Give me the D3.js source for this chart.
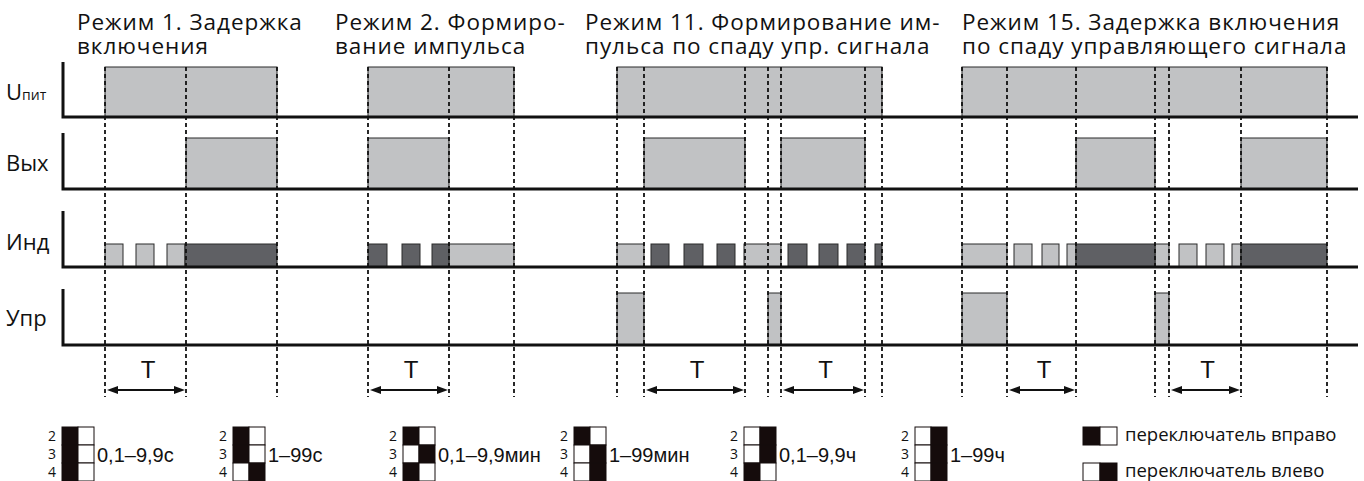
<!DOCTYPE html>
<html><head><meta charset="utf-8">
<script src="https://cdn.jsdelivr.net/npm/d3@7"></script>
<style>body{margin:0;background:#fff}svg{display:block}</style>
</head><body>
<svg id="chart" width="1364" height="481"></svg>
<script>
// ---------- DATA (time units) ----------
const rowLabels = ["U", "Вых", "Инд", "Упр"];
const powerSubscript = "пит";
const modeTitles = [
  ["Режим 1. Задержка", "включения"],
  ["Режим 2. Формиро-", "вание импульса"],
  ["Режим 11. Формирование им-", "пульса по спаду упр. сигнала"],
  ["Режим 15. Задержка включения", "по спаду управляющего сигнала"]
];
const powerPulses = [[47, 219], [310, 456], [559, 824], [904, 1269]];
const outputPulses = [[128, 219], [310, 391], [586, 687], [723, 807], [1018, 1097], [1183, 1269]];
const indicatorLight = [[47, 65], [78, 96], [109, 127], [391, 456], [559, 586], [686, 723],
  [904, 949], [956, 974], [984, 1001], [1009, 1018], [1097, 1111], [1121, 1139], [1148, 1166], [1174, 1183]];
const indicatorDark = [[127, 219], [310, 329], [344, 362], [374, 391], [593, 611], [626, 645], [659, 677],
  [730, 749], [761, 780], [789, 807], [817, 824], [1018, 1097], [1183, 1269]];
const controlPulses = [[559, 586], [710, 723], [904, 949], [1097, 1111]];
const delayArrows = [[47, 128], [310, 391], [586, 687], [723, 807], [949, 1018], [1111, 1183]];
const markerTimes = [47, 128, 219, 310, 391, 456, 559, 586, 687, 710, 723, 807, 824,
  904, 949, 1018, 1097, 1111, 1183, 1269];
const delayLabel = "T";
const switchNumbers = ["2", "3", "4"];
const rangeLabels = ["0,1–9,9с", "1–99с", "0,1–9,9мин", "1–99мин", "0,1–9,9ч", "1–99ч"];
const switchPatterns = [["L", "L", "L"], ["L", "L", "R"], ["L", "R", "L"], ["L", "R", "R"], ["R", "R", "L"], ["R", "R", "R"]];
const legendPatterns = ["L", "R"];
const legendTexts = ["переключатель вправо", "переключатель влево"];

// ---------- LAYOUT ----------
const W = 1364, H = 481;
const svg = d3.select("#chart");
const x = d3.scaleLinear().domain([0, 1300]).range([58, 1358]);
const rows = [
  { axisTop: 62, top: 67, base: 117, labelY: 100 },
  { axisTop: 133, top: 138, base: 189, labelY: 171 },
  { axisTop: 211, top: 244, base: 267, labelY: 250 },
  { axisTop: 289, top: 293, base: 345, labelY: 326 }
];
rows.forEach(r => r.y = d3.scaleLinear().domain([0, 1]).range([r.base, r.top]));
const LIGHT = "#c1c2c4", DARK = "#5f6064", INK = "#111";
const titleX = [77, 335, 585, 962];

svg.append("rect").attr("width", W).attr("height", H).attr("fill", "#fff");

// titles
const tg = svg.append("g").attr("font-family", "'Open Sans', 'Noto Sans', sans-serif")
  .attr("font-size", 22.5).attr("letter-spacing", 0.95).attr("fill", "#111");
modeTitles.forEach((t, i) => {
  tg.append("text").attr("x", titleX[i]).attr("y", 30).text(t[0]);
  tg.append("text").attr("x", titleX[i]).attr("y", 54).text(t[1]);
});

// pulses
function drawPulses(data, row, fill) {
  const r = rows[row];
  svg.append("g").selectAll("rect").data(data).join("rect")
    .attr("x", d => x(d[0])).attr("width", d => x(d[1]) - x(d[0]))
    .attr("y", r.y(1)).attr("height", r.y(0) - r.y(1))
    .attr("fill", fill).attr("stroke", "#2a2a2a").attr("stroke-width", 1);
}
drawPulses(powerPulses, 0, LIGHT);
drawPulses(outputPulses, 1, LIGHT);
drawPulses(indicatorLight, 2, LIGHT);
drawPulses(indicatorDark, 2, DARK);
drawPulses(controlPulses, 3, LIGHT);

// axes
const ag = svg.append("g").attr("stroke", INK).attr("stroke-width", 3).attr("fill", "none");
rows.forEach(r => {
  ag.append("path").attr("d", `M${x.range()[0] + 5},${r.axisTop}V${r.base}H${x.range()[1]}`)
    .attr("stroke-linejoin", "miter");
});

// row labels
const lg = svg.append("g").attr("font-family", "'Open Sans', 'Noto Sans', sans-serif").attr("fill", "#111");
rowLabels.forEach((l, i) => {
  const t = lg.append("text").attr("x", 6).attr("y", rows[i].labelY).attr("font-size", 22).text(l);
  if (i === 0) t.append("tspan").attr("font-size", 14).text(powerSubscript);
});

// dashed markers
svg.append("g").selectAll("line").data(markerTimes).join("line")
  .attr("x1", d => x(d)).attr("x2", d => x(d))
  .attr("y1", rows[0].top).attr("y2", 397)
  .attr("stroke", INK).attr("stroke-width", 1.8).attr("stroke-dasharray", "4,3");

// delay arrows
const arrowY = 390, head = 11, half = 4;
const dg = svg.append("g");
delayArrows.forEach(d => {
  const a = x(d[0]) + 2, b = x(d[1]) - 1;
  dg.append("line").attr("x1", a + 4).attr("x2", b - 4).attr("y1", arrowY).attr("y2", arrowY)
    .attr("stroke", INK).attr("stroke-width", 2);
  dg.append("path").attr("d", `M${a},${arrowY}L${a + head},${arrowY - half}L${a + head},${arrowY + half}Z`).attr("fill", INK);
  dg.append("path").attr("d", `M${b},${arrowY}L${b - head},${arrowY - half}L${b - head},${arrowY + half}Z`).attr("fill", INK);
  dg.append("text").attr("x", (a + b) / 2 + 2).attr("y", 378).attr("text-anchor", "middle")
    .attr("font-family", "'Liberation Sans', Arial, sans-serif").attr("font-size", 24).attr("fill", INK).text(delayLabel);
});

// switch grids
const gridX = d3.scaleLinear().domain([0, 5]).range([62, 915]);
const cellW = 16, cellH = 18, gridTop = 427;
const BLACK = "#150c0c";
switchPatterns.forEach((p, i) => {
  const gx = Math.round(gridX(i));
  const g = svg.append("g");
  p.forEach((side, j) => {
    const yy = gridTop + j * cellH;
    g.append("rect").attr("x", gx).attr("y", yy).attr("width", cellW).attr("height", cellH)
      .attr("fill", side === "L" ? BLACK : "#fff").attr("stroke", BLACK).attr("stroke-width", 1);
    g.append("rect").attr("x", gx + cellW).attr("y", yy).attr("width", cellW).attr("height", cellH)
      .attr("fill", side === "R" ? BLACK : "#fff").attr("stroke", BLACK).attr("stroke-width", 1);
    g.append("text").attr("x", gx - 10).attr("y", yy + cellH / 2 + 5).attr("text-anchor", "middle")
      .attr("font-family", "'Open Sans', sans-serif").attr("font-size", 14).attr("fill", "#111").text(switchNumbers[j]);
  });
  g.append("text").attr("x", gx + 2 * cellW + 3).attr("y", gridTop + cellH * 1.5 + 7.5)
    .attr("font-family", "'Liberation Sans', Arial, sans-serif").attr("font-size", 20).attr("fill", "#111").text(rangeLabels[i]);
});

// legend
legendPatterns.forEach((side, i) => {
  const lx = 1083, ly = gridTop + i * 36;
  svg.append("rect").attr("x", lx).attr("y", ly).attr("width", cellW + 1).attr("height", cellH)
    .attr("fill", side === "L" ? BLACK : "#fff").attr("stroke", BLACK);
  svg.append("rect").attr("x", lx + cellW + 1).attr("y", ly).attr("width", cellW + 1).attr("height", cellH)
    .attr("fill", side === "R" ? BLACK : "#fff").attr("stroke", BLACK);
  svg.append("text").attr("x", lx + 42).attr("y", ly + cellH / 2 + 4.5)
    .attr("font-family", "'Open Sans', sans-serif").attr("font-size", 18.5).attr("fill", "#111").text(legendTexts[i]);
});
</script>
</body></html>
